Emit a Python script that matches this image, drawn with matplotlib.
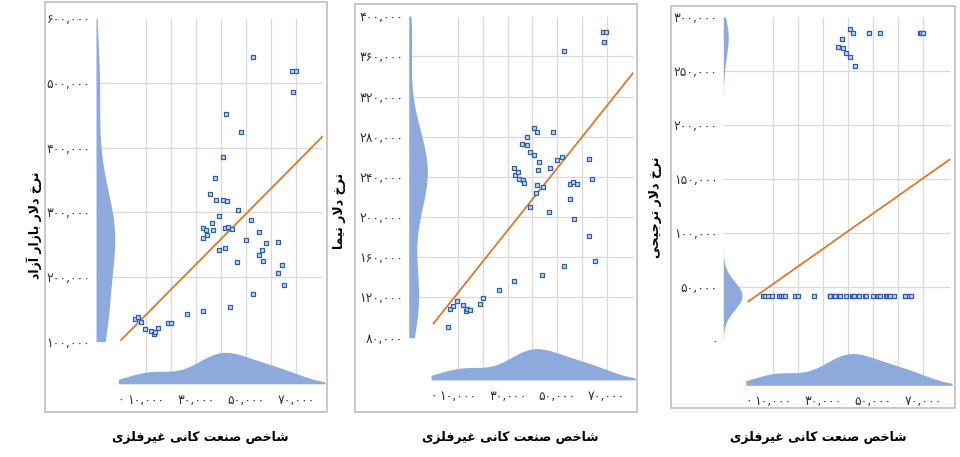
import numpy as np
import matplotlib
matplotlib.use("Agg")
import matplotlib.pyplot as plt
from matplotlib.patches import Rectangle

#%% DATA (thousands)
# shared x: non-metallic minerals industry index
index_k = [5.7, 6.7, 7.9, 9.6, 12.1, 13.0, 13.7, 14.7, 18.7, 19.8, 26.3,
           32.6, 32.6, 32.8, 34.1, 34.5, 35.7, 36.2, 36.6, 37.6, 37.9,
           39.0, 39.1, 40.6, 40.8, 41.4, 41.7, 42.0, 42.4, 42.7, 43.7,
           44.4, 46.5, 46.9, 48.1, 49.9, 52.0, 52.6, 52.8, 55.0, 55.3,
           56.3, 56.6, 58.1, 62.7, 62.8, 64.2, 65.1, 68.5, 68.9, 69.9]
# free market dollar rate
free_k = [135.4, 137.9, 130.2, 119.9, 116.2, 112.2, 115.7, 120.8, 129.1, 129.1, 143.0,
          148.0, 275.7, 260.3, 273.1, 264.5, 328.7, 283.5, 273.1, 352.5, 318.5,
          242.2, 294.3, 318.5, 385.0, 245.3, 275.7, 452.4, 317.0, 277.7, 153.0,
          274.7, 223.3, 303.6, 424.1, 256.7, 288.6, 173.6, 539.6, 270.0, 233.6,
          242.2, 224.8, 253.0, 205.7, 254.5, 219.1, 187.2, 518.4, 486.4, 518.4]
# NIMA dollar rate
nima_k = [91.0, 108.3, 111.8, 116.8, 112.8, 106.9, 108.3, 107.6, 113.5, 119.5, 127.8,
          136.4, 248.9, 241.9, 244.9, 238.2, 272.7, 236.9, 234.2, 280.0, 271.7,
          209.8, 265.1, 261.8, 288.4, 224.3, 231.6, 284.4, 246.9, 254.5, 142.4,
          229.9, 205.4, 248.6, 284.4, 256.5, 259.5, 151.3, 365.3, 218.3, 232.9,
          235.2, 197.8, 232.9, 181.2, 257.8, 237.6, 156.6, 384.5, 374.5, 384.5]
# preferential dollar rate
pref_k = [42, 42, 42, 42, 42, 42, 42, 42, 42, 42, 42,
          42, 42, 42, 42, 42, 272.6, 42, 42, 280.0, 271.7,
          42, 266.4, 262.7, 289.3, 42, 42, 285.6, 42, 254.6, 42,
          42, 42, 42, 285.6, 42, 42, 42, 285.6, 42, 42,
          42, 42, 42, 42, 42, 42, 42, 285.6, 285.6, 285.6]

x_label = "شاخص صنعت کانی غیرفلزی"
y_labels = ["نرخ دلار بازار آزاد", "نرخ دلار نیما", "نرخ دلار ترجیحی"]
y_ticks = [[100000, 200000, 300000, 400000, 500000, 600000],
           [80000, 120000, 160000, 200000, 240000, 280000, 320000, 360000, 400000],
           [0, 50000, 100000, 150000, 200000, 250000, 300000]]
x_ticks = [0, 10000, 30000, 50000, 70000]

#%% persian text helpers (matplotlib has no arabic shaping)
FORMS = {
    'ا': ('\uFE8D', '\uFE8E'), 'آ': ('\uFE81', '\uFE82'),
    'د': ('\uFEA9', '\uFEAA'), 'ر': ('\uFEAD', '\uFEAE'), 'ز': ('\uFEAF', '\uFEB0'),
    'ب': ('\uFE8F', '\uFE90', '\uFE91', '\uFE92'),
    'ت': ('\uFE95', '\uFE96', '\uFE97', '\uFE98'),
    'ج': ('\uFE9D', '\uFE9E', '\uFE9F', '\uFEA0'),
    'ح': ('\uFEA1', '\uFEA2', '\uFEA3', '\uFEA4'),
    'خ': ('\uFEA5', '\uFEA6', '\uFEA7', '\uFEA8'),
    'ش': ('\uFEB5', '\uFEB6', '\uFEB7', '\uFEB8'),
    'ص': ('\uFEB9', '\uFEBA', '\uFEBB', '\uFEBC'),
    'ع': ('\uFEC9', '\uFECA', '\uFECB', '\uFECC'),
    'غ': ('\uFECD', '\uFECE', '\uFECF', '\uFED0'),
    'ف': ('\uFED1', '\uFED2', '\uFED3', '\uFED4'),
    'ل': ('\uFEDD', '\uFEDE', '\uFEDF', '\uFEE0'),
    'م': ('\uFEE1', '\uFEE2', '\uFEE3', '\uFEE4'),
    'ن': ('\uFEE5', '\uFEE6', '\uFEE7', '\uFEE8'),
    'ک': ('\uFB8E', '\uFB8F', '\uFB90', '\uFB91'),
    'ی': ('\uFBFC', '\uFBFD', '\uFBFE', '\uFBFF'),
}
LAM_ALEF = {'ا': ('\uFEFB', '\uFEFC'), 'آ': ('\uFEF5', '\uFEF6')}


def shape(text):
    out = []
    i = 0
    while i < len(text):
        ch = text[i]
        prev = text[i - 1] if i > 0 else ''
        joins_prev = len(FORMS.get(prev, ())) == 4
        if ch == 'ل' and i + 1 < len(text) and text[i + 1] in LAM_ALEF:
            out.append(LAM_ALEF[text[i + 1]][joins_prev])
            i += 2
            continue
        f = FORMS.get(ch)
        if f is None:
            out.append(ch)
            i += 1
            continue
        nxt = text[i + 1] if i + 1 < len(text) else ''
        joins_next = len(f) == 4 and nxt in FORMS
        if joins_prev and joins_next:
            out.append(f[3])
        elif joins_prev:
            out.append(f[1])
        elif joins_next:
            out.append(f[2])
        else:
            out.append(f[0])
        i += 1
    return ''.join(reversed(out))


fa_digits = str.maketrans("0123456789", "۰۱۲۳۴۵۶۷۸۹")


def fa_num(v):
    return f"{v:,}".translate(fa_digits)


def kde(data, grid, bw):
    return np.exp(-0.5 * ((grid[:, None] - data[None, :]) / bw) ** 2).sum(axis=1)


#%% FIGURE
W, H = 960, 457
fig = plt.figure(figsize=(W / 100, H / 100), dpi=100)
fig.patch.set_facecolor("white")

GRID = "#d9d9d9"
DENS = "#8eaadc"
LINE = "#d9792b"

x = np.array(index_k) * 1000
ys = [np.array(free_k) * 1000, np.array(nima_k) * 1000, np.array(pref_k) * 1000]

# layout per panel in pixels: axes (l, t, r, b), box (l, t, r, b), xlabel centre, ylabel centre
layout = [
    dict(ax=(96, 13.7, 324.75, 383.8), ylim=(35000, 607000), box=(45, 2, 327, 412),
         xl=(200, 438), yl=(34, 225), bw=58000),
    dict(ax=(408.75, 12.1, 635.2, 379.9), ylim=(38000, 404000), box=(355, 4, 637, 412),
         xl=(510, 437), yl=(340, 211), bw=34000),
    dict(ax=(723.3, 11.6, 952, 385.3), ylim=(-41000, 305000), box=(671, 6, 955, 408),
         xl=(818, 437), yl=(655, 207), bw=13000),
]

XMIN, XMAX = -10000, 81500

for k in range(3):
    lay = layout[k]
    y = ys[k]
    ticks = y_ticks[k]
    l, t, r, b = lay["ax"]
    ax = fig.add_axes([l / W, 1 - b / H, (r - l) / W, (b - t) / H])
    ax.set_xlim(XMIN, XMAX)
    ax.set_ylim(*lay["ylim"])
    ax.set_facecolor("none")
    for s in ax.spines.values():
        s.set_visible(False)

    # gridlines
    ax.vlines(np.arange(10000, 80000, 10000), lay["ylim"][0], ticks[-1],
              color=GRID, lw=0.9, zorder=0)
    ax.hlines(ticks[1:-1], XMIN, 80500, color=GRID, lw=0.9, zorder=0)

    # left marginal density
    yy = np.linspace(ticks[0], ticks[-1], 400)
    d = kde(y, yy, lay["bw"])
    d = d / d.max()
    ax.fill_betweenx(yy, XMIN, XMIN + 7500 * d, color=DENS, lw=0, zorder=1)

    # bottom marginal density
    xx = np.linspace(-1000, XMAX, 400)
    d = kde(x, xx, 8500)
    d = d / d.max()
    h = 0.085 * (lay["ylim"][1] - lay["ylim"][0])
    ax.fill_between(xx, lay["ylim"][0], lay["ylim"][0] + h * d, color=DENS, lw=0, zorder=1)

    # linear fit
    b1, b0 = np.polyfit(x, y, 1)
    xl = np.array([0, 80500])
    ax.plot(xl, b0 + b1 * xl, color=LINE, lw=1.3, zorder=2)

    ax.scatter(x, y, marker="s", s=9, facecolors="#c9d8f0", edgecolors="#2d5fae",
               linewidths=0.9, zorder=3)

    ax.set_yticks(ticks)
    ax.set_yticklabels([fa_num(v) for v in ticks], fontsize=9, color="#333333")
    ax.set_xticks(x_ticks)
    ax.set_xticklabels([fa_num(v) for v in x_ticks], fontsize=9, color="#333333")
    ax.tick_params(length=0, pad=4)
    ax.tick_params(axis="x", pad=7)

    bl, bt, br, bb = lay["box"]
    fig.add_artist(Rectangle((bl / W, 1 - bb / H), (br - bl) / W, (bb - bt) / H,
                             transform=fig.transFigure, fill=False, ec="#bfbfbf", lw=1.2))

    fig.text(lay["xl"][0] / W, 1 - lay["xl"][1] / H, shape(x_label),
             ha="center", va="center", fontsize=9, fontweight="bold")
    fig.text(lay["yl"][0] / W, 1 - lay["yl"][1] / H, shape(y_labels[k]),
             ha="center", va="center", fontsize=9, fontweight="bold", rotation=90)

fig.savefig("out.png", dpi=100)
